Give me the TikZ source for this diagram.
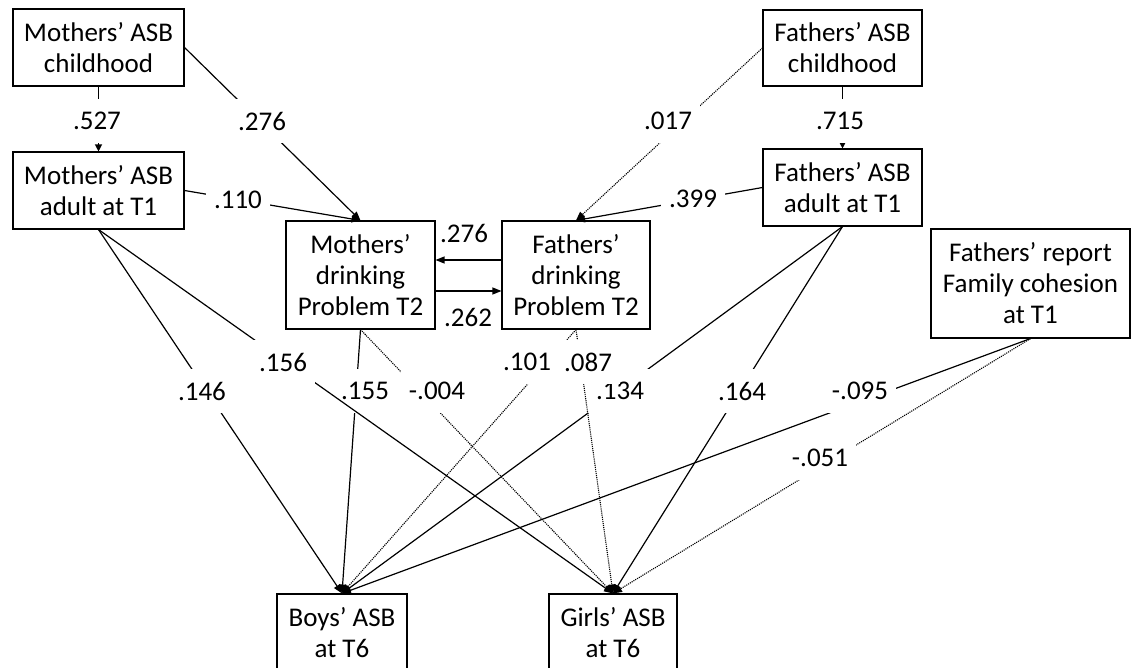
\documentclass[tikz,border=0pt]{standalone}
\usepackage{fontspec}
\setmainfont{Carlito}
\usetikzlibrary{arrows.meta}
\begin{document}
\begin{tikzpicture}[x=1pt,y=-1pt,
  box/.style={draw, line width=1.1pt, align=center, inner sep=0pt, font=\fontsize{27}{31}\selectfont},
  lbl/.style={fill=white, inner xsep=8pt, inner ysep=13pt, font=\fontsize{27}{31}\selectfont},
  lblsm/.style={lbl, inner xsep=3pt},
  con/.style={line width=1.2pt, -{Triangle[length=9pt,width=7pt]}},
  consm/.style={line width=1.2pt, -{Triangle[length=7pt,width=7pt]}},
  dotcon/.style={con, line width=1.1pt, dash pattern=on 1.1pt off 1pt}]
\clip (0,0) rectangle (1135,668);
\fill[white] (0,0) rectangle (1135,668);
% boxes
\node[box, minimum width=171pt, minimum height=77pt] (MC) at (98.5,47.5) {Mothers’ ASB\\childhood};
\node[box, minimum width=171pt, minimum height=77pt] (MA) at (98.5,190.5) {Mothers’ ASB\\adult at T1};
\node[box, minimum width=159pt, minimum height=76pt] (FC) at (842.5,48) {Fathers’ ASB\\childhood};
\node[box, minimum width=159pt, minimum height=77pt] (FA) at (842.5,187.5) {Fathers’ ASB\\adult at T1};
\node[box, minimum width=149pt, minimum height=108pt] (MD) at (360.5,275) {Mothers’\\drinking\\Problem T2};
\node[box, minimum width=148pt, minimum height=108pt] (FD) at (576,275) {Fathers’\\drinking\\Problem T2};
\node[box, minimum width=199pt, minimum height=109pt] (FR) at (1030.5,283.5) {Fathers’ report\\Family cohesion\\at T1};
\node[box, minimum width=130pt, minimum height=77pt] (BO) at (342,632.5) {Boys’ ASB\\at T6};
\node[box, minimum width=128pt, minimum height=77pt] (GI) at (613,632.5) {Girls’ ASB\\at T6};
% upper connectors
\draw[consm] (MC) -- (MA) node[lbl] (l1) at (97,121) {.527};
\draw[con] (MC.east) -- (MD.north) node[lbl] (l2) at (262,121) {.276};
\draw[con] (MA.east) -- (MD.north) node[lbl] (l3) at (238,200) {.110};
\draw[dotcon] (FC.west) -- (FD.north) node[lbl] (l4) at (668,121) {.017};
\draw[con] (FA.west) -- (FD.north) node[lbl] (l5) at (693,199) {.399};
\draw[consm] (FC) -- (FA) node[lbl] (l6) at (840,121) {.715};
\draw[con] ([yshift=15pt]FD.west) -- ([yshift=15pt]MD.east) node[lblsm] (l7) at (464,233) {.276};
\draw[con] ([yshift=-16pt]MD.east) -- ([yshift=-16pt]FD.west) node[lblsm] (l8) at (468,317) {.262};
% lower connectors
\draw[con] (MA.south) -- (BO.north) node[lbl] (l9) at (202,391) {.146};
\draw[con] (MD.south) -- (BO.north) node[lbl] (l10) at (365,391) {.155};
\draw[dotcon] (MD.south) -- (GI.north) node[lbl] (l11) at (437,391) {-.004};
\draw[con] (MA.south) -- (GI.north) node[lbl] (l12) at (283,362) {.156};
\draw[con] (FA.south) -- (BO.north) node[lbl] (l13) at (620,391) {.134};
\draw[dotcon] (FD.south) -- (BO.north) node[lbl] (l14) at (527,362) {.101};
\draw[dotcon] (FD.south) -- (GI.north) node[lbl] (l15) at (588,362) {.087};
\draw[con] (FA.south) -- (GI.north) node[lbl] (l16) at (742,391) {.164};
\draw[con] (FR.south) -- (BO.north) node[lbl] (l17) at (860,391) {-.095};
\draw[dotcon] (FR.south) -- (GI.north) node[lbl] (l18) at (820,458) {-.051};
\end{tikzpicture}
\end{document}
